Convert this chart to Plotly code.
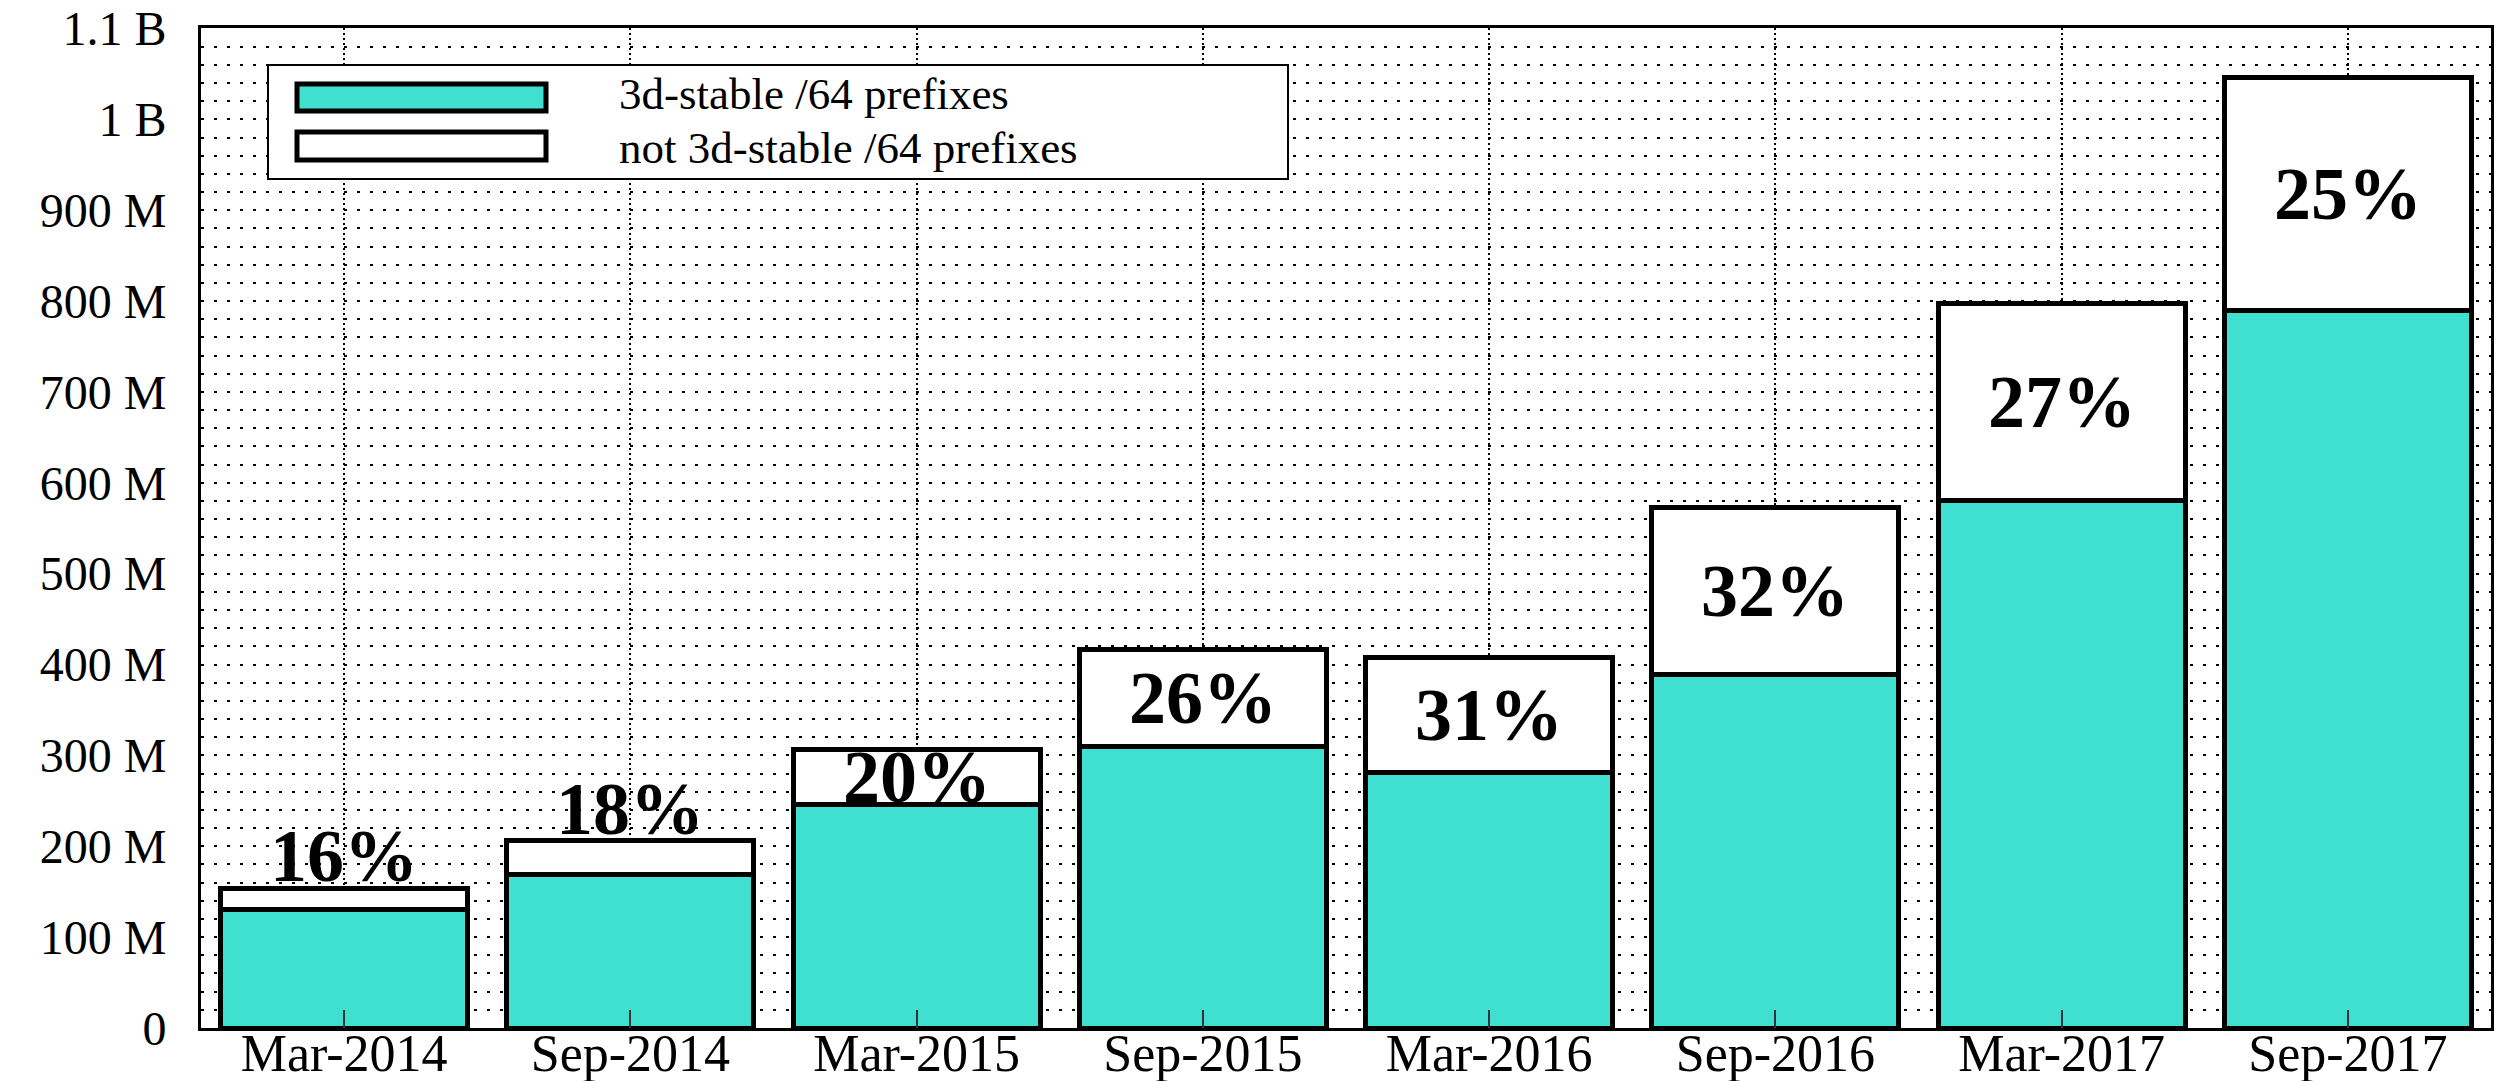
import plotly.graph_objects as go

# ---- data ----
categories = ["Mar-2014", "Sep-2014", "Mar-2015", "Sep-2015",
              "Mar-2016", "Sep-2016", "Mar-2017", "Sep-2017"]
stable_m = [130, 169, 246, 310, 281, 389, 581, 790]        # 3d-stable /64 prefixes (millions)
unstable_m = [24, 37, 61, 107, 127, 184, 216, 256]         # not 3d-stable /64 prefixes (millions)
pct_labels = ["16%", "18%", "20%", "26%", "31%", "32%", "27%", "25%"]
ytick_vals_m = [0, 100, 200, 300, 400, 500, 600, 700, 800, 900, 1000, 1100]
ytick_text = ["0", "100 M", "200 M", "300 M", "400 M", "500 M", "600 M",
              "700 M", "800 M", "900 M", "1 B", "1.1 B"]
series_names = ["3d-stable /64 prefixes", "not 3d-stable /64 prefixes"]

M = 1e6
stable = [v * M for v in stable_m]
unstable = [v * M for v in unstable_m]
totals = [a + b for a, b in zip(stable, unstable)]

TEAL = "#40E0D0"
SERIF = "Liberation Serif"

# ---- layout geometry (pixels) ----
W, H = 2499, 1081
ML, MR, MT, MB = 201, 8, 28, 53
PW, PH = W - ML - MR, H - MT - MB


def px_x(x):
    return (x - ML) / PW


def px_y(y):
    return (H - MB - y) / PH


fig = go.Figure()
fig.add_trace(go.Bar(
    x=categories, y=stable, name=series_names[0],
    marker=dict(color=TEAL, line=dict(color="black", width=5)),
    showlegend=False, hoverinfo="skip"))
fig.add_trace(go.Bar(
    x=categories, y=unstable, name=series_names[1],
    marker=dict(color="white", line=dict(color="black", width=5)),
    showlegend=False, hoverinfo="skip"))

# percentage labels: centred in the white segment, or above the bar if it is too thin
annotations = []
for cat, s, u, t, lab in zip(categories, stable, unstable, totals, pct_labels):
    if u >= 50 * M:
        yy = s + u / 2
    else:
        yy = t + 35 * M
    annotations.append(dict(
        x=cat, y=yy, xref="x", yref="y", text=lab, showarrow=False,
        xanchor="center", yanchor="middle",
        font=dict(family=SERIF, size=74, color="black", weight="bold")))

# custom legend (large swatches like the reference)
shapes = [
    dict(type="rect", xref="paper", yref="paper",
         x0=px_x(268), x1=px_x(1288), y0=px_y(179), y1=px_y(65),
         fillcolor="white", line=dict(color="black", width=2), layer="above"),
    dict(type="rect", xref="paper", yref="paper",
         x0=px_x(297), x1=px_x(546), y0=px_y(111), y1=px_y(84),
         fillcolor=TEAL, line=dict(color="black", width=5), layer="above"),
    dict(type="rect", xref="paper", yref="paper",
         x0=px_x(297), x1=px_x(546), y0=px_y(160), y1=px_y(132),
         fillcolor="white", line=dict(color="black", width=5), layer="above"),
]
for name, yc in zip(series_names, [94, 148]):
    annotations.append(dict(
        x=px_x(618), y=px_y(yc), xref="paper", yref="paper", text=name,
        showarrow=False, xanchor="left", yanchor="middle", borderpad=0,
        font=dict(family=SERIF, size=45, color="black")))

fig.update_layout(
    width=W, height=H,
    margin=dict(l=ML, r=MR, t=MT, b=MB, pad=0),
    paper_bgcolor="white", plot_bgcolor="white",
    barmode="stack", bargap=0.137,
    showlegend=False,
    annotations=annotations, shapes=shapes,
    font=dict(family=SERIF, color="black"),
)
fig.update_xaxes(
    type="category", range=[-0.5, 7.5], automargin=False,
    showline=True, mirror=True, linecolor="black", linewidth=3,
    showgrid=True, gridcolor="black", gridwidth=2, griddash="2px,3px",
    ticks="inside", ticklen=18, tickwidth=2, tickcolor="#333",
    ticklabelstandoff=-22, ticklabeloverflow="allow",
    tickfont=dict(family=SERIF, size=52, color="black"),
    zeroline=False,
)
fig.update_yaxes(
    range=[0, 1100.5 * M], automargin=False,
    tickmode="array", tickvals=[v * M for v in ytick_vals_m], ticktext=ytick_text,
    ticks="", ticklabelstandoff=22, ticklabeloverflow="allow",
    tickfont=dict(family=SERIF, size=48, color="black"),
    showline=True, mirror=True, linecolor="black", linewidth=3,
    showgrid=True, gridcolor="black", gridwidth=2, griddash="3px,10px",
    minor=dict(tickmode="linear", tick0=0, dtick=20 * M, showgrid=True,
               gridcolor="black", gridwidth=2, griddash="3px,10px", ticks=""),
    zeroline=False,
)

fig.write_html("out.html",
               config={"displayModeBar": False},
               post_script="document.body.style.margin='0';document.body.style.overflow='hidden';")
